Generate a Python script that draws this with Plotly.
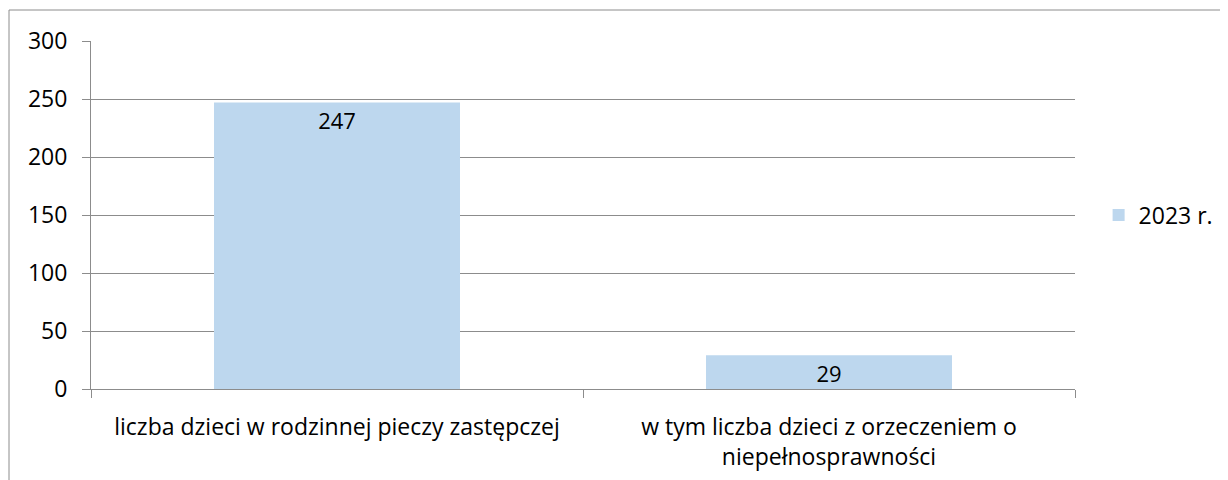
import plotly.graph_objects as go

categories = ["liczba dzieci w rodzinnej pieczy zastępczej",
              "w tym liczba dzieci z orzeczeniem o<br>niepełnosprawności"]
values = [247, 29]
series_name = "2023 r."
y_ticks = [0, 50, 100, 150, 200, 250, 300]

FONT = "Open Sans"
FS = 23
GRID = "#8c8c8c"

fig = go.Figure()
fig.add_trace(go.Bar(
    x=categories, y=values, name=series_name,
    marker=dict(color="#BDD7EE", line=dict(width=0)),
    width=0.5,
    text=[str(v) for v in values],
    textposition="inside", insidetextanchor="end",
    textangle=0, constraintext="none",
    textfont=dict(family=FONT, size=FS - 1, color="#000000"),
    showlegend=True,
))

# page has an 8px body margin; plot area in page coords: x 91..1075, y 41..389
fig.update_layout(
    width=1228, height=480,
    margin=dict(l=83, r=161, t=33, b=99),
    paper_bgcolor="white", plot_bgcolor="white",
    font=dict(family=FONT, size=FS, color="#000000"),
    showlegend=True,
    legend=dict(x=1.024, y=0.5, xanchor="left", yanchor="middle",
                font=dict(family=FONT, size=FS), itemwidth=30),
    xaxis=dict(type="category", tickson="boundaries", ticks="outside", ticklen=8,
               tickcolor=GRID, showline=True, linecolor=GRID, showgrid=False,
               ticklabelstandoff=17,
               tickfont=dict(family=FONT, size=FS)),
    yaxis=dict(range=[0, 300], tickvals=y_ticks, ticks="outside", ticklen=8,
               tickcolor=GRID, showline=True, linecolor=GRID, showgrid=True,
               gridcolor=GRID, zeroline=False, ticklabelstandoff=10,
               tickfont=dict(family=FONT, size=FS)),
    shapes=[
        dict(type="line", xref="paper", yref="paper",
             x0=(9 - 91) / 984, x1=(1240 - 91) / 984,
             y0=(389 - 10) / 348, y1=(389 - 10) / 348,
             line=dict(color="#8c8c8c", width=1)),
        dict(type="line", xref="paper", yref="paper",
             x0=(9 - 91) / 984, x1=(9 - 91) / 984,
             y0=(389 - 10) / 348, y1=(389 - 490) / 348,
             line=dict(color="#8c8c8c", width=1)),
    ],
)

fig.write_html("out.html")
